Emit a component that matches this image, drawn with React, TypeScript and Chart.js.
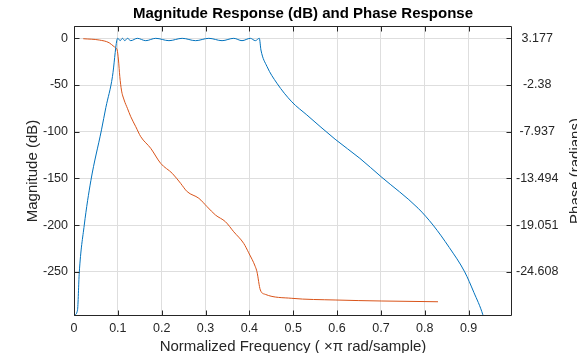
import React, { useEffect, useRef } from "react";
import { Chart, registerables } from "chart.js";

Chart.register(...registerables);

// Magnitude response (dB) vs normalized frequency (x pi rad/sample)
const magFreq = [0, 0.0007, 0.008, 0.012, 0.0234, 0.0386, 0.0627, 0.0727, 0.0877, 0.0977, 0.1, 0.1052, 0.1105, 0.1159, 0.1218, 0.1295, 0.1445, 0.1636, 0.1864, 0.2166, 0.2468, 0.2773, 0.3075, 0.3377, 0.3643, 0.3832, 0.4023, 0.4136, 0.4227, 0.4264, 0.44, 0.4627, 0.4968, 0.531, 0.5955, 0.652, 0.7, 0.785, 0.819, 0.856, 0.891, 0.912, 0.9325, 0.94];
const magDb = [-297, -296.5, -291, -251, -200, -152, -98, -74, -41, -2, 0, -2.5, 0, -2.5, 0, -2.5, 0, -2.5, 0, -2.5, 0, -2.5, 0, -2.5, 0, -2.5, 0, -2.5, 0, -12.5, -30, -48, -68, -82, -108, -128.5, -148, -182, -200, -224, -250, -272, -296, -310];

// Phase response (radians)
const phaseFreq = [0.0211, 0.0575, 0.0802, 0.0916, 0.0984, 0.1014, 0.1045, 0.1082, 0.1143, 0.1218, 0.1295, 0.1409, 0.1523, 0.175, 0.1977, 0.2241, 0.2432, 0.2582, 0.2848, 0.3036, 0.3227, 0.3455, 0.3643, 0.387, 0.3984, 0.4136, 0.4173, 0.425, 0.4364, 0.4968, 0.5955, 0.7007, 0.8302];
const phaseRad = [3.13, 2.975, 2.65, 2.18, 1.79, 0.595, -1.39, -2.98, -4.16, -5.15, -6.15, -7.34, -8.53, -9.91, -11.7, -12.89, -14.08, -15.07, -15.86, -16.86, -17.85, -18.65, -19.84, -21.22, -22.34, -24.0, -24.6, -26.77, -27.29, -27.76, -27.96, -28.08, -28.17];

// Tick values and labels
const xTicks = [0, 0.1, 0.2, 0.3, 0.4, 0.5, 0.6, 0.7, 0.8, 0.9];
const xTickLabels = ["0", "0.1", "0.2", "0.3", "0.4", "0.5", "0.6", "0.7", "0.8", "0.9"];
const magTicks = [0, -50, -100, -150, -200, -250];
const magTickLabels = ["0", "-50", "-100", "-150", "-200", "-250"];
const phaseTicks = [3.177, -2.38, -7.937, -13.494, -19.051, -24.608];
const phaseTickLabels = ["3.177", "-2.38", "-7.937", "-13.494", "-19.051", "-24.608"];

// Axis limits
const xLimits = [0, 0.999];
const magLimits = [-297.3, 13.2];
const phaseLimits = [-29.865, 4.644];

const TEXT = "#262626";
const GRID = "#dedede";
const FONT = "'Liberation Sans', Arial, sans-serif";

const boxPlugin = {
  id: "matlabBox",
  afterDraw(chart: any) {
    const { ctx, chartArea: a, scales } = chart;
    ctx.save();
    ctx.strokeStyle = TEXT;
    ctx.lineWidth = 1;
    ctx.beginPath();
    const L = Math.round(a.left) + 0.5;
    const R = Math.round(a.right) - 0.5;
    const T = Math.round(a.top) + 0.5;
    const B = Math.round(a.bottom) - 0.5;
    ctx.rect(L, T, R - L, B - T);
    for (const t of scales.x.ticks) {
      const px = Math.round(scales.x.getPixelForValue(t.value)) + 0.5;
      ctx.moveTo(px, B);
      ctx.lineTo(px, B - 5);
      ctx.moveTo(px, T);
      ctx.lineTo(px, T + 5);
    }
    for (const t of scales.y.ticks) {
      const py = Math.round(scales.y.getPixelForValue(t.value)) + 0.5;
      ctx.moveTo(L, py);
      ctx.lineTo(L + 5, py);
    }
    for (const t of scales.y1.ticks) {
      const py = Math.round(scales.y1.getPixelForValue(t.value)) + 0.5;
      ctx.moveTo(R, py);
      ctx.lineTo(R - 5, py);
    }
    ctx.stroke();
    // right axis title (reads bottom to top)
    ctx.fillStyle = TEXT;
    ctx.font = `15px ${FONT}`;
    ctx.textAlign = "center";
    ctx.textBaseline = "middle";
    ctx.translate(576, (a.top + a.bottom) / 2);
    ctx.rotate(-Math.PI / 2);
    ctx.fillText("Phase (radians)", 0, 0);
    ctx.restore();
  },
};

export default function App() {
  const ref = useRef<HTMLCanvasElement>(null);
  useEffect(() => {
    document.body.style.margin = "0";
    const canvas = ref.current!;
    const chart = new Chart(canvas, {
      type: "line",
      data: {
        datasets: [
          {
            label: "Magnitude",
            data: magFreq.map((f, i) => ({ x: f, y: magDb[i] })),
            borderColor: "#0072BD",
            borderWidth: 1,
            pointRadius: 0,
            cubicInterpolationMode: "monotone",
            yAxisID: "y",
          },
          {
            label: "Phase",
            data: phaseFreq.map((f, i) => ({ x: f, y: phaseRad[i] })),
            borderColor: "#D95319",
            borderWidth: 1,
            pointRadius: 0,
            cubicInterpolationMode: "monotone",
            yAxisID: "y1",
          },
        ],
      },
      options: {
        animation: false,
        responsive: false,
        layout: { padding: { left: 29, right: 0, top: 0, bottom: 0 } },
        plugins: {
          legend: { display: false },
          tooltip: { enabled: false },
          title: {
            display: true,
            text: "Magnitude Response (dB) and Phase Response",
            color: "#000",
            font: { family: FONT, size: 15, weight: "bold", lineHeight: 1.2 },
            padding: { top: 5, bottom: 3 },
          },
        },
        scales: {
          x: {
            type: "linear",
            min: xLimits[0],
            max: xLimits[1],
            afterBuildTicks: (s: any) => {
              s.ticks = xTicks.map((v) => ({ value: v }));
            },
            afterFit: (s: any) => {
              s.height = 37;
            },
            ticks: {
              color: TEXT,
              font: { family: FONT, size: 12.5 },
              padding: 5,
              maxRotation: 0,
              autoSkip: false,
              callback: (v: any) => xTickLabels[xTicks.indexOf(Math.round(v * 10) / 10)] ?? "",
            },
            grid: { color: GRID, drawTicks: false },
            border: { display: false },
            title: {
              display: true,
              text: "Normalized Frequency ( \u00d7\u03c0 rad/sample)",
              color: TEXT,
              font: { family: FONT, size: 15, lineHeight: 1.2 },
              padding: { top: 0, bottom: -3 },
            },
          },
          y: {
            type: "linear",
            position: "left",
            min: magLimits[0],
            max: magLimits[1],
            afterBuildTicks: (s: any) => {
              s.ticks = magTicks.map((v) => ({ value: v }));
            },
            afterFit: (s: any) => {
              s.width = 45;
            },
            ticks: {
              color: TEXT,
              font: { family: FONT, size: 12.5 },
              padding: 6,
              autoSkip: false,
              callback: (v: any) => magTickLabels[magTicks.indexOf(v)] ?? "",
            },
            grid: { color: GRID, drawTicks: false },
            border: { display: false },
            title: {
              display: true,
              text: "Magnitude (dB)",
              color: TEXT,
              font: { family: FONT, size: 15, lineHeight: 1.2 },
              padding: { top: -5.5, bottom: 0 },
            },
          },
          y1: {
            type: "linear",
            position: "right",
            min: phaseLimits[0],
            max: phaseLimits[1],
            afterBuildTicks: (s: any) => {
              s.ticks = phaseTicks.map((v) => ({ value: v }));
            },
            afterFit: (s: any) => {
              s.width = 65;
            },
            ticks: {
              color: TEXT,
              font: { family: FONT, size: 12.5 },
              padding: 4,
              crossAlign: "center",
              autoSkip: false,
              callback: (v: any) => phaseTickLabels[phaseTicks.indexOf(v)] ?? "",
            },
            grid: { display: false, drawTicks: false },
            border: { display: false },
          },
        },
      },
      plugins: [boxPlugin],
    } as any);
    return () => chart.destroy();
  }, []);
  return (
    <div style={{ width: 577, height: 353, background: "#fff" }}>
      <canvas ref={ref} width={577} height={353} style={{ width: 577, height: 353, display: "block" }} />
    </div>
  );
}
